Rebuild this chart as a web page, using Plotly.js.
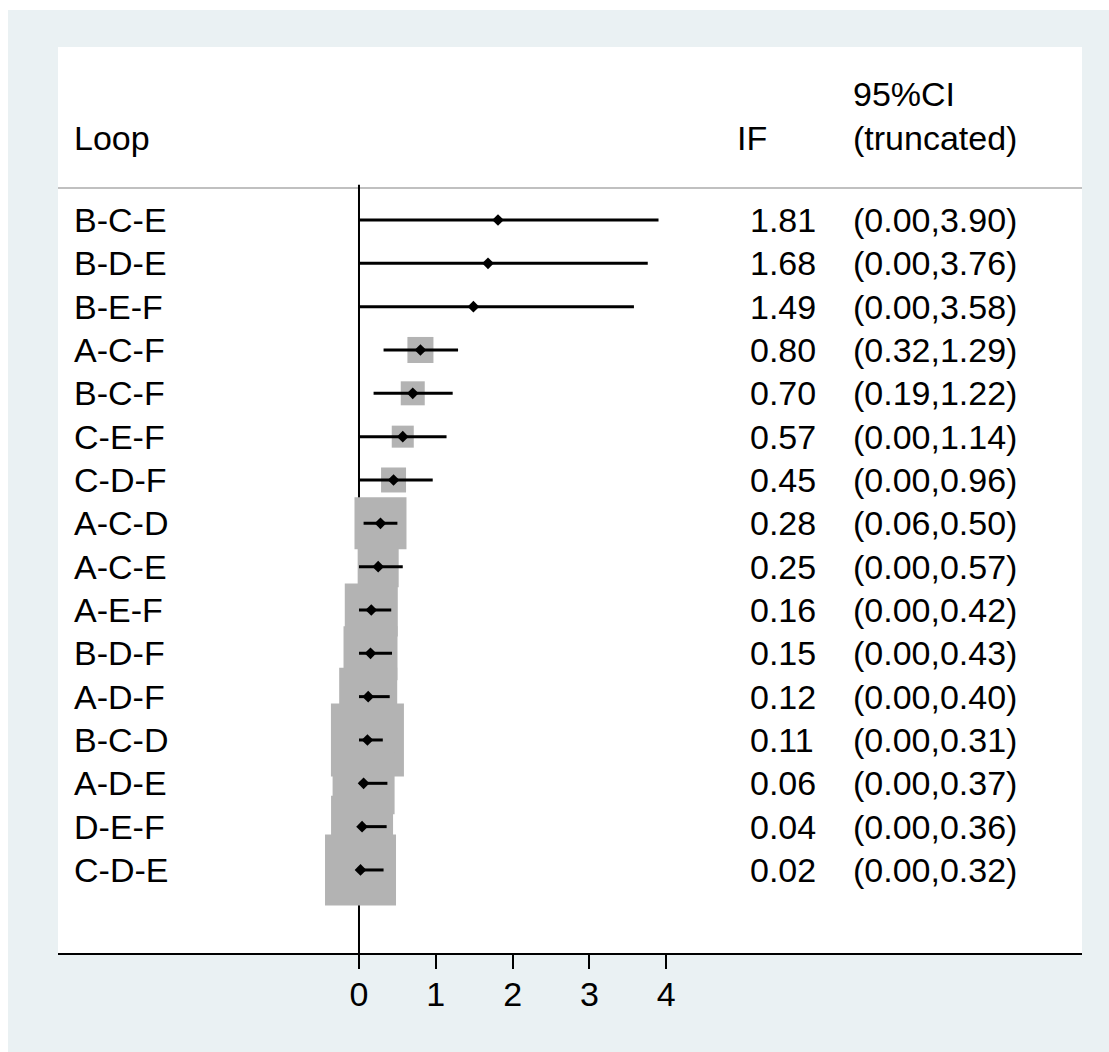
<!DOCTYPE html>
<html>
<head>
<meta charset="utf-8">
<script src="https://cdn.plot.ly/plotly-3.0.1.min.js"></script>
<style>
  html, body { margin: 0; padding: 0; background: #ffffff; }
  #chart { position: absolute; left: 8px; top: 10px; width: 1101px; height: 1042px; }
</style>
</head>
<body>
<div id="chart"></div>
<script>
// ---- data ----
const loops = ['B-C-E','B-D-E','B-E-F','A-C-F','B-C-F','C-E-F','C-D-F','A-C-D','A-C-E','A-E-F','B-D-F','A-D-F','B-C-D','A-D-E','D-E-F','C-D-E'];
const ifVals = [1.81,1.68,1.49,0.80,0.70,0.57,0.45,0.28,0.25,0.16,0.15,0.12,0.11,0.06,0.04,0.02];
const ciLow  = [0.00,0.00,0.00,0.32,0.19,0.00,0.00,0.06,0.00,0.00,0.00,0.00,0.00,0.00,0.00,0.00];
const ciHigh = [3.90,3.76,3.58,1.29,1.22,1.14,0.96,0.50,0.57,0.42,0.43,0.40,0.31,0.37,0.36,0.32];
const weights = [0.05,0.05,0.05,2.0,1.7,1.43,1.84,7.98,4.96,8.29,8.60,9.93,15.72,11.34,11.34,14.87];
const xTickVals = [0,1,2,3,4];
const xTickText = ['0','1','2','3','4'];
const headerLoop = 'Loop';
const headerIF = 'IF';
const headerCI1 = '95%CI';
const headerCI2 = '(truncated)';

// ---- layout constants ----
const FONT = 'Liberation Sans, Arial, Helvetica, sans-serif';
const FS = 34;
const BOX_SCALE = 18.41;
const rows = loops.map((_, i) => i);
const fmt = v => v.toFixed(2);

// CI line segments
const ciX = [], ciY = [];
rows.forEach(i => { ciX.push(ciLow[i], ciHigh[i], null); ciY.push(i, i, null); });

const traces = [
  { type: 'scatter', mode: 'markers', x: ifVals, y: rows, hoverinfo: 'skip',
    marker: { symbol: 'square', color: '#b3b3b3', opacity: 1, size: weights.map(w => BOX_SCALE * Math.sqrt(w)), line: { width: 0 } } },
  { type: 'scatter', mode: 'lines', x: ciX, y: ciY, hoverinfo: 'skip',
    line: { color: '#000000', width: 3 } },
  { type: 'scatter', mode: 'markers', x: ifVals, y: rows, hoverinfo: 'skip',
    marker: { symbol: 'diamond', color: '#000000', opacity: 1, size: 9, line: { width: 0 } } }
];

const annotations = [];
const txt = (x, y, text) => annotations.push({ xref: 'paper', yref: 'y', x: x, y: y, text: text,
  showarrow: false, xanchor: 'left', yanchor: 'middle', borderpad: 0,
  font: { family: FONT, size: FS, color: '#000' } });
const X_LABEL = 0.0146, X_IF = 0.6748, X_CI = 0.7754, X_IFH = 0.662;
rows.forEach(i => {
  txt(X_LABEL, i, loops[i]);
  txt(X_IF, i, fmt(ifVals[i]));
  txt(X_CI, i, '(' + fmt(ciLow[i]) + ',' + fmt(ciHigh[i]) + ')');
});
txt(X_LABEL, -1.9, headerLoop);
txt(X_IFH, -1.9, headerIF);
txt(X_CI, -2.9, headerCI1);
txt(X_CI, -1.9, headerCI2);

const layout = {
  width: 1101, height: 1042,
  margin: { l: 50, r: 27, t: 37, b: 99 },
  paper_bgcolor: '#eaf1f3',
  plot_bgcolor: '#ffffff',
  showlegend: false,
  font: { family: FONT, size: FS, color: '#000' },
  xaxis: {
    range: [-3.919, 9.414], tickvals: xTickVals, ticktext: xTickText,
    ticks: 'outside', ticklen: 14, tickwidth: 2, tickcolor: '#000',
    ticklabelstandoff: -4,
    showline: true, linecolor: '#000', linewidth: 2,
    showgrid: false, zeroline: false, fixedrange: true,
    tickfont: { family: FONT, size: FS, color: '#000' }
  },
  yaxis: {
    range: [16.916, -3.992], showticklabels: false, ticks: '', showline: false,
    showgrid: false, zeroline: false, fixedrange: true
  },
  shapes: [
    { type: 'line', xref: 'paper', yref: 'y', x0: 0, x1: 1, y0: -0.74, y1: -0.74,
      line: { color: '#c0c0c0', width: 2 }, layer: 'below' },
    { type: 'line', xref: 'x', yref: 'paper', x0: 0, x1: 0, y0: 0, y1: 0.848,
      line: { color: '#000', width: 2 }, layer: 'below' }
  ],
  annotations: annotations
};

Plotly.newPlot('chart', traces, layout, { displayModeBar: false, staticPlot: true });
</script>
</body>
</html>
